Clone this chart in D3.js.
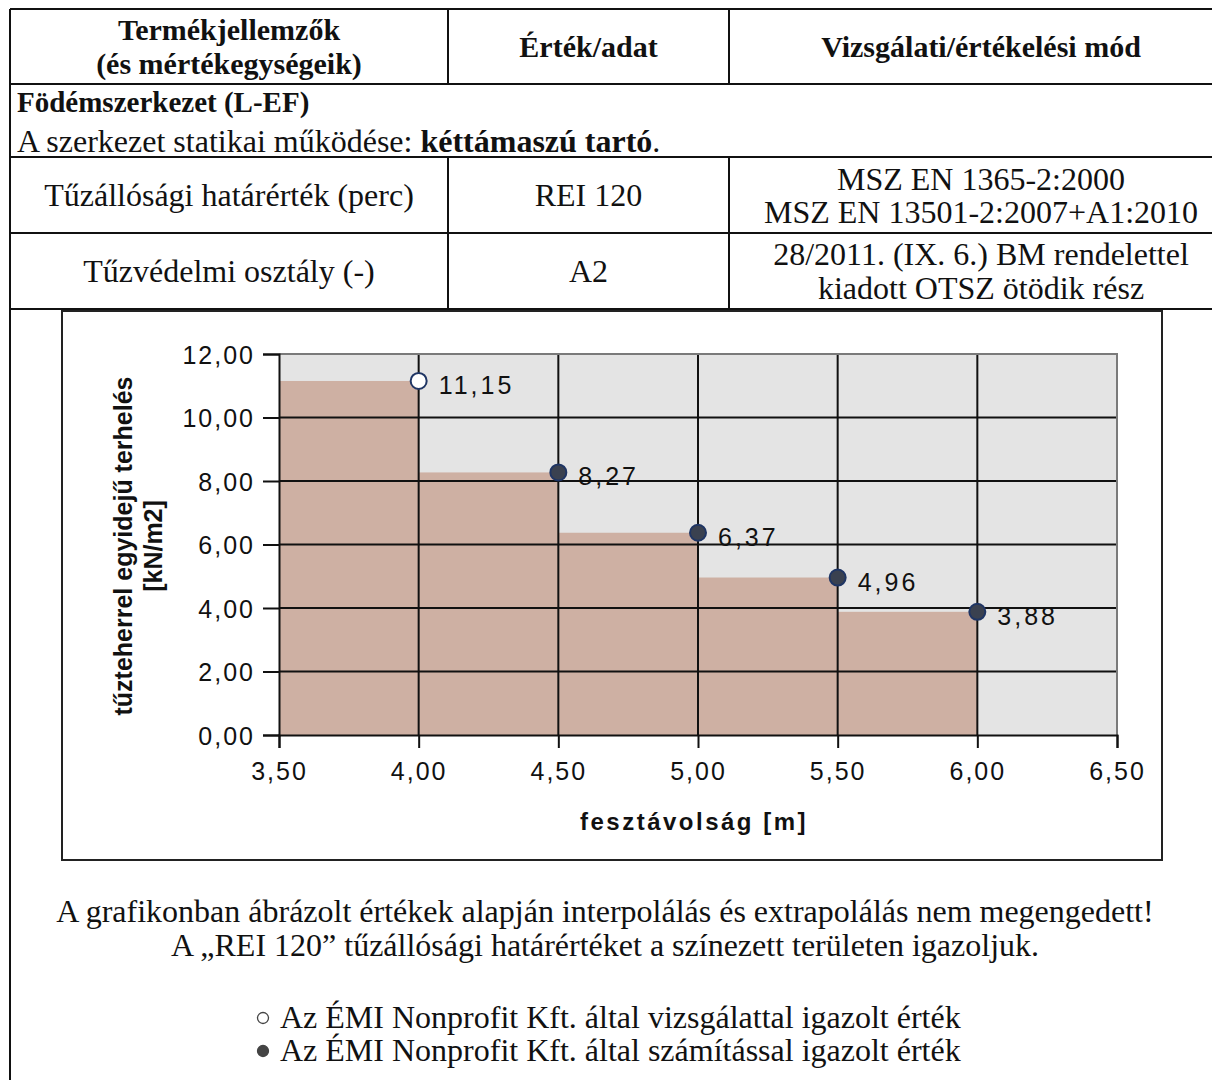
<!DOCTYPE html>
<html>
<head>
<meta charset="utf-8">
<script src="https://cdn.jsdelivr.net/npm/d3@7"></script>
<style>
  body { margin: 0; background: #fff; }
  svg { display: block; }
  .serif { font-family: "Liberation Serif", "Times New Roman", serif; fill: #111; }
  .sans { font-family: "Liberation Sans", Arial, sans-serif; fill: #111; }
</style>
</head>
<body>
<div id="chart"></div>
<script>
// ===== Data =====
const spans = [4.0, 4.5, 5.0, 5.5, 6.0];          // fesztávolság [m]
const loads = [11.15, 8.27, 6.37, 4.96, 3.88];     // terhelés [kN/m2]
const kinds = ["test", "calc", "calc", "calc", "calc"]; // vizsgálat / számítás
const xTicks = [3.5, 4.0, 4.5, 5.0, 5.5, 6.0, 6.5];
const yTicks = [0, 2, 4, 6, 8, 10, 12];

const headerCells = [["Termékjellemzők", "(és mértékegységeik)"], ["Érték/adat"], ["Vizsgálati/értékelési mód"]];
const rowFire = [["Tűzállósági határérték (perc)"], ["REI 120"], ["MSZ EN 1365-2:2000", "MSZ EN 13501-2:2007+A1:2010"]];
const rowClass = [["Tűzvédelmi osztály (-)"], ["A2"], ["28/2011. (IX. 6.) BM rendelettel", "kiadott OTSZ ötödik rész"]];
const notes = [
  "A grafikonban ábrázolt értékek alapján interpolálás és extrapolálás nem megengedett!",
  "A \u201eREI 120\u201d tűzállósági határértéket a színezett területen igazoljuk."
];
const legendItems = [
  { kind: "test", label: "Az ÉMI Nonprofit Kft. által vizsgálattal igazolt érték" },
  { kind: "calc", label: "Az ÉMI Nonprofit Kft. által számítással igazolt érték" }
];

// ===== SVG =====
const W = 1212, H = 1080;
const svg = d3.select("#chart").append("svg").attr("width", W).attr("height", H);

const fmt = d3.formatLocale({ decimal: ",", thousands: " ", grouping: [3], currency: ["", ""] }).format(".2f");

// ===== Table =====
const colX = [10, 448, 729, 1250];
const rowY = [9, 84, 157, 233, 309];
const tbl = svg.append("g");

tbl.selectAll(".hl").data(rowY).enter().append("line")
  .attr("x1", colX[0]).attr("x2", W)
  .attr("y1", d => d).attr("y2", d => d)
  .attr("stroke", "#111").attr("stroke-width", 2);

// outer left border down to bottom
tbl.append("line").attr("x1", colX[0]).attr("x2", colX[0]).attr("y1", rowY[0]).attr("y2", H)
  .attr("stroke", "#111").attr("stroke-width", 2);

// column separators (header + 2 data rows)
[[rowY[0], rowY[1]], [rowY[2], rowY[4]]].forEach(([a, b]) => {
  [colX[1], colX[2]].forEach(x => {
    tbl.append("line").attr("x1", x).attr("x2", x).attr("y1", a).attr("y2", b)
      .attr("stroke", "#111").attr("stroke-width", 2);
  });
});

function drawRow(cells, y0, y1, bold, lineGap) {
  cells.forEach((lines, i) => {
    const cx = i < 2 ? (colX[i] + colX[i + 1]) / 2 : 981;
    const cy = (y0 + y1) / 2;
    lines.forEach((t, j) => {
      tbl.append("text").attr("class", "serif")
        .attr("x", cx)
        .attr("y", cy + (j - (lines.length - 1) / 2) * lineGap)
        .attr("text-anchor", "middle")
        .attr("dominant-baseline", "central")
        .style("font-size", bold ? "30px" : "32px")
        .style("font-weight", bold ? "bold" : "normal")
        .text(t);
    });
  });
}
drawRow(headerCells, rowY[0], rowY[1], true, 34);
drawRow(rowFire, rowY[2], rowY[3], false, 33);
drawRow(rowClass, rowY[3], rowY[4], false, 34);

tbl.append("text").attr("class", "serif").attr("x", 17).attr("y", 112)
  .style("font-size", "29px").style("font-weight", "bold").text("Födémszerkezet (L-EF)");
const t2 = tbl.append("text").attr("class", "serif").attr("x", 17).attr("y", 152).style("font-size", "32px");
t2.append("tspan").text("A szerkezet statikai működése: ");
t2.append("tspan").style("font-weight", "bold").text("kéttámaszú tartó");
t2.append("tspan").text(".");

// ===== Chart frame =====
svg.append("rect").attr("x", 62).attr("y", 311).attr("width", 1100).attr("height", 549)
  .attr("fill", "#fff").attr("stroke", "#222").attr("stroke-width", 2);

const plot = { left: 279, right: 1117, top: 354, bottom: 735 };
const x = d3.scaleLinear().domain([3.5, 6.5]).range([plot.left, plot.right]);
const y = d3.scaleLinear().domain([0, 12]).range([plot.bottom, plot.top]);

const g = svg.append("g");

g.append("rect").attr("x", plot.left).attr("y", plot.top)
  .attr("width", plot.right - plot.left).attr("height", plot.bottom - plot.top)
  .attr("fill", "#e4e4e4");

// shaded step area
const series = spans.map((s, i) => ({ s, v: loads[i], kind: kinds[i] }));
g.selectAll(".step").data(series).enter().append("rect")
  .attr("x", d => x(d.s - 0.5))
  .attr("width", d => x(d.s) - x(d.s - 0.5))
  .attr("y", d => y(d.v))
  .attr("height", d => y(0) - y(d.v))
  .attr("fill", "#ceb0a3");

// grid
g.selectAll(".gx").data(xTicks.slice(1, -1)).enter().append("line")
  .attr("x1", d => x(d)).attr("x2", d => x(d))
  .attr("y1", plot.top).attr("y2", plot.bottom)
  .attr("stroke", "#111").attr("stroke-width", 2);
g.selectAll(".gy").data(yTicks.slice(1, -1)).enter().append("line")
  .attr("x1", plot.left).attr("x2", plot.right)
  .attr("y1", d => y(d)).attr("y2", d => y(d))
  .attr("stroke", "#111").attr("stroke-width", 2);

// plot border (top/right gray)
g.append("path")
  .attr("d", `M${plot.left},${plot.top}H${plot.right}V${plot.bottom}`)
  .attr("fill", "none").attr("stroke", "#7a7a7a").attr("stroke-width", 2);

// axes
const yAxis = g.append("g").attr("transform", `translate(${plot.left},0)`)
  .call(d3.axisLeft(y).tickValues(yTicks).tickFormat(fmt).tickSize(16).tickPadding(8));
const xAxis = g.append("g").attr("transform", `translate(0,${plot.bottom})`)
  .call(d3.axisBottom(x).tickValues(xTicks).tickFormat(fmt).tickSize(13).tickPadding(14));
[yAxis, xAxis].forEach(a => {
  a.select(".domain").attr("stroke", "#111").attr("stroke-width", 2);
  a.selectAll(".tick line").attr("stroke", "#111").attr("stroke-width", 2);
  a.selectAll(".tick text").attr("class", "sans").attr("fill", "#111")
    .style("font-size", "25px").style("letter-spacing", "2px");
});
yAxis.selectAll(".tick text").attr("dy", "0.36em");

// points
g.selectAll(".pt").data(series).enter().append("circle")
  .attr("cx", d => x(d.s)).attr("cy", d => y(d.v)).attr("r", 8)
  .attr("fill", d => d.kind === "test" ? "#ffffff" : "#3a4150")
  .attr("stroke", "#1f3564").attr("stroke-width", 2);

g.selectAll(".lbl").data(series).enter().append("text")
  .attr("class", "sans")
  .attr("x", d => x(d.s) + 20).attr("y", d => y(d.v) + 4)
  .attr("dominant-baseline", "central")
  .style("font-size", "25px").style("letter-spacing", "3px")
  .text(d => fmt(d.v));

// axis titles
const yt = g.append("text").attr("class", "sans")
  .attr("transform", `translate(132,546) rotate(-90)`)
  .attr("text-anchor", "middle")
  .style("font-size", "25px").style("font-weight", "bold");
yt.append("tspan").attr("x", 0).attr("dy", 0).text("tűzteherrel egyidejű terhelés");
yt.append("tspan").attr("x", 0).attr("dy", 30).text("[kN/m2]");

g.append("text").attr("class", "sans")
  .attr("x", 694).attr("y", 830).attr("text-anchor", "middle")
  .style("font-size", "24px").style("font-weight", "bold").style("letter-spacing", "2.5px")
  .text("fesztávolság [m]");

// ===== Notes & legend =====
notes.forEach((t, i) => {
  svg.append("text").attr("class", "serif")
    .attr("x", 605).attr("y", 922 + i * 34).attr("text-anchor", "middle")
    .style("font-size", "32px").text(t);
});

const leg = svg.append("g");
legendItems.forEach((d, i) => {
  const yy = 1028 + i * 33;
  leg.append("circle").attr("cx", 263).attr("cy", yy - 10).attr("r", 5.5)
    .attr("fill", d.kind === "test" ? "#fff" : "#444").attr("stroke", "#444").attr("stroke-width", 1.3);
  leg.append("text").attr("class", "serif").attr("x", 280).attr("y", yy)
    .style("font-size", "32px").text(d.label);
});
</script>
</body>
</html>
